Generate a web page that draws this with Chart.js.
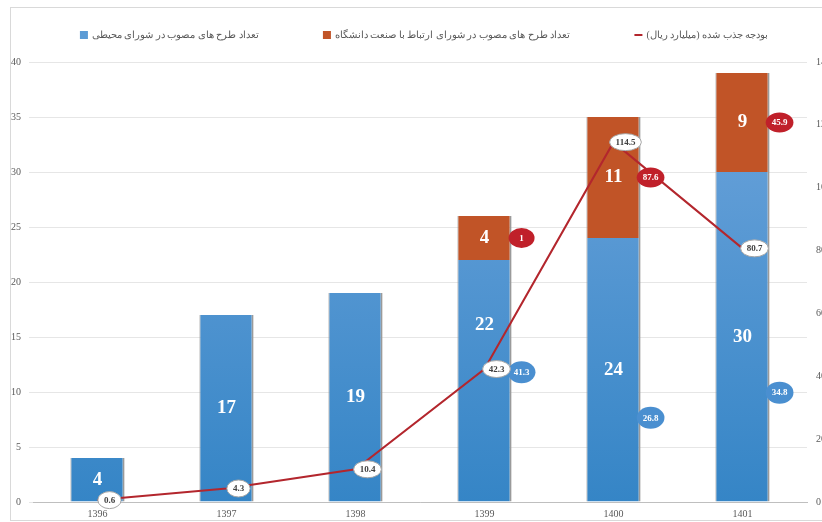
<!DOCTYPE html>
<html>
<head>
<meta charset="utf-8">
<title>Projects and budget</title>
<script src="https://cdn.jsdelivr.net/npm/chart.js@4/dist/chart.umd.min.js"></script>
<style>
body { margin: 0; overflow: hidden; background: #fff; }
#frame { position: absolute; left: 10px; top: 7px; width: 900px; height: 512px; border: 1px solid #d9d9d9; }
#wrap { position: absolute; left: 0; top: 0; width: 859px; height: 528px; }
</style>
</head>
<body>
<div id="frame"></div>
<div id="wrap"><canvas id="myChart"></canvas></div>
<script>
// data
var years = ['1396', '1397', '1398', '1399', '1400', '1401'];
var envProjects = [4, 17, 19, 22, 24, 30];       // blue
var uniProjects = [0, 0, 0, 4, 11, 9];           // orange
var budget = [0.6, 4.3, 10.4, 42.3, 114.5, 80.7]; // red line, right axis
var envBudget = [null, null, null, 41.3, 26.8, 34.8];  // blue bubbles
var uniBudget = [null, null, null, 1, 87.6, 45.9];     // red bubbles

var serif = "'Liberation Serif', 'DejaVu Serif', serif";
var grey = '#595959';

function blueFill(ctx) {
    var a = ctx.chart.chartArea;
    if (!a) return '#5b9bd5';
    var g = ctx.chart.ctx.createLinearGradient(0, a.top, 0, a.bottom);
    g.addColorStop(0, '#6fa5dc');
    g.addColorStop(1, '#3585c6');
    return g;
}

function edge(ctx) {
    return ctx.raw ? {left: 1, right: 2, top: 0, bottom: 0} : 0;
}

function bubble(c, x, y, text, fill, stroke, color, minRx, ry) {
    c.font = 'bold 9px ' + serif;
    var rx = Math.max(minRx, c.measureText(text).width / 2 + 6);
    c.beginPath();
    c.ellipse(x, y, rx, ry, 0, 0, Math.PI * 2);
    c.fillStyle = fill;
    c.fill();
    if (stroke) {
        c.strokeStyle = stroke;
        c.lineWidth = 1;
        c.stroke();
    }
    c.fillStyle = color;
    c.textAlign = 'center';
    c.textBaseline = 'middle';
    c.fillText(text, x, y + 0.5);
}

var labels = {
    id: 'labels',
    afterDatasetsDraw: function(chart) {
        var c = chart.ctx;
        var blue = chart.getDatasetMeta(0).data;
        var orange = chart.getDatasetMeta(1).data;
        var line = chart.getDatasetMeta(2).data;
        var yR = chart.scales.y1;
        c.save();
        // numbers inside the bars
        c.font = 'bold 19px ' + serif;
        c.fillStyle = '#fff';
        c.textAlign = 'center';
        c.textBaseline = 'middle';
        for (var i = 0; i < years.length; i++) {
            var b = blue[i];
            var y = (b.y + b.base) / 2;
            if (Math.abs(y - line[i].y) < 20) y -= 56; // keep clear of the line bubble
            c.fillText(envProjects[i], b.x, y);
            if (uniProjects[i]) {
                var o = orange[i];
                c.fillText(uniProjects[i], o.x, (o.y + o.base) / 2);
            }
        }
        // side bubbles
        for (var j = 0; j < years.length; j++) {
            var bb = blue[j];
            var xr = bb.x + bb.width / 2 + 10;
            if (uniBudget[j] != null) {
                var oo = orange[j];
                bubble(c, xr, (oo.y + oo.base) / 2, String(uniBudget[j]), '#c0202a', null, '#fff', 13, 10);
            }
            if (envBudget[j] != null) {
                bubble(c, xr, yR.getPixelForValue(envBudget[j]), String(envBudget[j]), '#4a8fd0', null, '#fff', 13, 11);
            }
        }
        // line value bubbles
        for (var k = 0; k < years.length; k++) {
            var p = line[k];
            bubble(c, p.x + 12, p.y, String(budget[k]), '#fff', '#a6a6a6', '#404040', 10, 8.5);
        }
        c.restore();
    }
};

// legend drawn by hand: marker left of the text, wide gaps between items
var legendBox = {
    id: 'legendBox',
    afterDraw: function(chart) {
        var c = chart.ctx;
        var marks = ['#5b9bd5', '#c15427', '#b3262d'];
        var gap = 64, mark = 8, space = 4, y = 35;
        c.save();
        c.font = '10px ' + serif;
        c.direction = 'rtl';
        var ds = chart.data.datasets;
        var widths = ds.map(function(d) { return mark + space + c.measureText(d.label).width; });
        var total = widths.reduce(function(a, b) { return a + b; }, 0) + gap * (ds.length - 1);
        var a = chart.chartArea;
        var x = (a.left + a.right) / 2 + 4 - total / 2;
        c.textAlign = 'left';
        c.textBaseline = 'middle';
        ds.forEach(function(d, i) {
            c.fillStyle = marks[i];
            if (d.type === 'line') c.fillRect(x, y - 1, mark, 2);
            else c.fillRect(x, y - mark / 2, mark, mark);
            c.fillStyle = grey;
            c.fillText(d.label, x + mark + space, y);
            x += widths[i] + gap;
        });
        c.restore();
    }
};

var ctx = document.getElementById('myChart').getContext('2d');
var chart = new Chart(ctx, {
    type: 'bar',
    data: {
        labels: years,
        datasets: [
            {label: 'تعداد طرح های مصوب در شورای محیطی',
             data: envProjects,
             backgroundColor: blueFill,
             borderColor: '#9a9a9a',
             borderWidth: edge,
             borderSkipped: false,
             stack: 's', yAxisID: 'y', order: 1},
            {label: 'تعداد طرح های مصوب در شورای ارتباط با صنعت دانشگاه',
             data: uniProjects,
             backgroundColor: '#c15427',
             borderColor: '#9a9a9a',
             borderWidth: edge,
             borderSkipped: false,
             stack: 's', yAxisID: 'y', order: 2},
            {label: 'بودجه جذب شده (میلیارد ریال)',
             type: 'line',
             data: budget,
             borderColor: '#b3262d',
             backgroundColor: '#b3262d',
             borderWidth: 2,
             pointRadius: 0,
             tension: 0,
             yAxisID: 'y1', order: 0}
        ]
    },
    options: {
        responsive: true,
        maintainAspectRatio: false,
        animation: false,
        layout: {padding: {left: 3, right: 19, top: 62, bottom: 2}},
        datasets: {bar: {categoryPercentage: 1, barPercentage: 0.42}},
        plugins: {
            tooltip: {enabled: false},
            legend: {display: false}
        },
        scales: {
            x: {
                grid: {display: false, drawTicks: false},
                border: {color: '#bfbfbf'},
                ticks: {color: grey, padding: 6, font: {size: 10, family: serif}}
            },
            y: {
                stacked: true,
                min: 0, max: 40,
                ticks: {stepSize: 5, color: grey, padding: 8, font: {size: 10, family: serif}},
                grid: {color: '#e6e6e6', tickLength: 4},
                border: {display: false}
            },
            y1: {
                position: 'right',
                min: 0, max: 140,
                ticks: {stepSize: 20, color: grey, padding: 9, font: {size: 10, family: serif}},
                grid: {drawOnChartArea: false, drawTicks: false},
                border: {display: false}
            }
        }
    },
    plugins: [labels, legendBox]
});
</script>
</body>
</html>
